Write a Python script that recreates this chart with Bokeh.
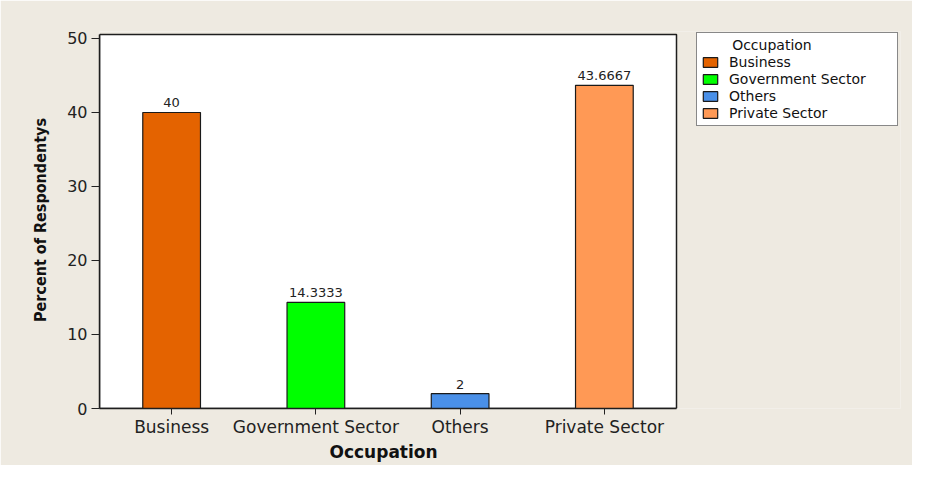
from bokeh.plotting import figure
from bokeh.models import (ColumnDataSource, Range1d, Legend, LegendItem, LabelSet,
                          BoxAnnotation, FixedTicker, Title)
from bokeh.core.properties import value, field
from bokeh.embed import file_html
from bokeh.resources import INLINE

categories = ["Business", "Government Sector", "Others", "Private Sector"]
percents = [40, 14.3333, 2, 43.6667]
colors = ["#E46300", "#00FF00", "#4A90E8", "#FF9955"]
y_ticks = [0, 10, 20, 30, 40, 50]
bar_labels = [f"{v:g}" for v in percents]

n = len(categories)
positions = [i + 0.5 for i in range(n)]
source = ColumnDataSource(dict(x=positions, cat=categories, pct=percents,
                               color=colors, label=bar_labels))

# plot box spans x 0..n and y 0..Y_TOP; the frame is wider to hold the legend
Y_TOP = 50.54
p = figure(x_range=Range1d(0, n * 801 / 577), y_range=Range1d(0, Y_TOP * 377 / 374),
           width=912, height=465, output_backend="svg", toolbar_location=None,
           min_border_left=99, min_border_right=12, min_border_top=31, min_border_bottom=57)

box = BoxAnnotation(left=0, right=n, bottom=0, top=Y_TOP, fill_color="white", fill_alpha=1.0,
                    line_color="#1e1e1e", line_alpha=1.0, line_width=1.5, level="underlay")
p.add_layout(box)

r = p.vbar(x="x", top="pct", width=0.4, source=source, fill_color="color",
           line_color="#1a1a1a", line_width=1.2)

labels = LabelSet(x="x", y="pct", text="label", source=source, text_align="center",
                  text_baseline="bottom", y_offset=5, text_font=value("DejaVu Sans"),
                  text_font_size="13px", text_color="#222222")
p.add_layout(labels)

legend = Legend(items=[LegendItem(label=field("cat"), renderers=[r])],
                location=(597, 282), margin=0, padding=4, spacing=0,
                label_height=17, label_width=164, glyph_width=18, glyph_height=12,
                label_standoff=10, title="\u00a0" * 7 + "Occupation",
                title_text_font_style="normal", title_text_font_size="14px",
                title_text_font="DejaVu Sans", title_standoff=0,
                label_text_font="DejaVu Sans", label_text_font_size="14px",
                label_text_color="#111111", title_text_color="#111111",
                border_line_color="#111111", border_line_width=1,
                background_fill_color="white", background_fill_alpha=1.0)
p.add_layout(legend)

p.xgrid.grid_line_color = None
p.ygrid.grid_line_color = None
p.border_fill_color = "#EEEAE1"
p.background_fill_color = "#EEEAE1"
p.outline_line_color = None

p.yaxis.ticker = y_ticks
p.yaxis.minor_tick_line_color = None
p.yaxis.major_tick_out = 8
p.yaxis.major_tick_in = 0
p.yaxis.major_label_standoff = 4
p.yaxis.major_label_text_font = "DejaVu Sans"
p.yaxis.major_label_text_font_size = "16px"
p.yaxis.major_label_text_color = "#222222"
p.yaxis.axis_label = "Percent of Respondentys"
p.yaxis.axis_label_text_font = "DejaVu Sans Condensed"
p.yaxis.axis_label_text_font_style = "bold"
p.yaxis.axis_label_text_font_size = "16px"
p.yaxis.axis_label_text_color = "#111111"
p.yaxis.axis_label_standoff = 14
p.yaxis.axis_line_color = "#1e1e1e"
p.yaxis.axis_line_width = 1.5
p.yaxis.major_tick_line_color = "#222222"
p.yaxis.bounds = (0, Y_TOP)

p.xaxis.ticker = FixedTicker(ticks=positions)
p.xaxis.major_label_overrides = {pos: cat for pos, cat in zip(positions, categories)}
p.xaxis.bounds = (0, n)
p.xaxis.minor_tick_line_color = None
p.xaxis.axis_line_color = "#1e1e1e"
p.xaxis.axis_line_width = 1.5
p.xaxis.major_tick_out = 6
p.xaxis.major_tick_in = 0
p.xaxis.major_tick_line_color = "#222222"
p.xaxis.major_label_standoff = 2
p.xaxis.major_label_text_font = "DejaVu Sans"
p.xaxis.major_label_text_font_size = "17px"
p.xaxis.major_label_text_color = "#222222"

x_title = Title(text="Occupation", align="left", offset=230, standoff=0,
                text_font="DejaVu Sans", text_font_style="bold", text_font_size="17px",
                text_color="#111111")
p.add_layout(x_title, "below")

open("out.html", "w").write(file_html(p, INLINE))
